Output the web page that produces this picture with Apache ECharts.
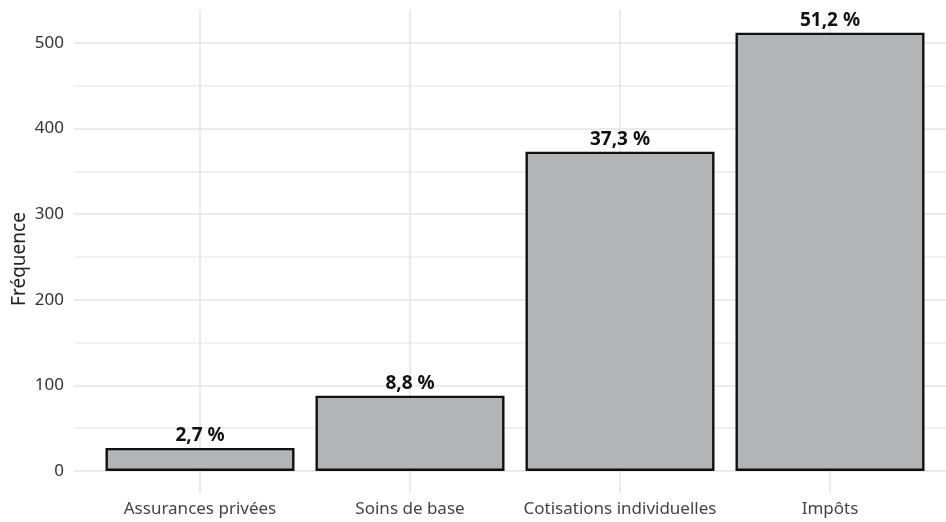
<!DOCTYPE html>
<html>
<head>
<meta charset="utf-8">
<script src="https://cdn.jsdelivr.net/npm/echarts@6/dist/echarts.min.js"></script>
<style>
  html, body { margin: 0; padding: 0; background: #fff; }
  #chart { width: 946px; height: 522px; }
</style>
</head>
<body>
<div id="chart"></div>
<script>
// data
var categories = ['Assurances privées', 'Soins de base', 'Cotisations individuelles', 'Impôts'];
var counts = [27, 88, 373, 512];
var pctLabels = ['2,7 %', '8,8 %', '37,3 %', '51,2 %'];
var yTitle = 'Fréquence';

var FONT = 'Noto Sans';
var GRID_COLOR = '#e4e4e4';
var Y_MAX = 538.5;

var myChart = echarts.init(document.getElementById('chart'), null, { renderer: 'canvas' });

var option = {
    backgroundColor: '#fff',
    animation: false,
    textStyle: { fontFamily: FONT },
    grid: [
        // 0: y axis + horizontal grid lines
        { left: 74, right: 0, top: 10, bottom: 51 },
        // 1: bars
        { left: 95, right: 11, top: 10, bottom: 51 },
        // 2: vertical grid lines and category labels
        { left: 200, right: 116, top: 10, bottom: 29 }
    ],
    // y title centred on the whole panel (ggplot style)
    graphic: [{
        type: 'text',
        x: 20,
        y: 259,
        rotation: Math.PI / 2,
        style: {
            text: yTitle,
            fill: '#222',
            font: '19px "Noto Sans"',
            align: 'center',
            verticalAlign: 'middle'
        }
    }],
    xAxis: [
        { type: 'value', gridIndex: 0, show: false, min: 0, max: 1 },
        {
            type: 'category', gridIndex: 1, data: categories, boundaryGap: true,
            axisLine: { show: false }, axisTick: { show: false },
            axisLabel: { show: false }, splitLine: { show: false }
        },
        {
            type: 'category', gridIndex: 2, data: categories, boundaryGap: false,
            axisLine: { show: false }, axisTick: { show: false },
            axisLabel: { interval: 0, margin: 8, color: '#444', fontSize: 17, fontFamily: FONT },
            splitLine: { show: true, interval: 0, lineStyle: { color: GRID_COLOR, width: 1.5 } }
        }
    ],
    yAxis: [
        {
            type: 'value', gridIndex: 0, min: 0, max: Y_MAX, interval: 50,
            axisLine: { show: false }, axisTick: { show: false },
            axisLabel: {
                margin: 10, color: '#333', fontSize: 17, fontFamily: FONT,
                showMaxLabel: false,
                formatter: function(v) { return v % 100 === 0 ? String(v) : ''; }
            },
            splitLine: {
                show: true, showMaxLine: false,
                lineStyle: { color: [GRID_COLOR, '#ececec'], width: 1.5 }
            }
        },
        { type: 'value', gridIndex: 1, min: 0, max: Y_MAX, show: false, splitLine: { show: false } },
        { type: 'value', gridIndex: 2, min: 0, max: 1, show: false, splitLine: { show: false } }
    ],
    series: [
        {
            type: 'bar',
            xAxisIndex: 1,
            yAxisIndex: 1,
            barWidth: '90%',
            data: counts,
            itemStyle: { color: '#b2b4b5', borderColor: '#111', borderWidth: 2.4 },
            label: {
                show: true,
                position: 'top',
                distance: 3,
                color: '#111',
                fontSize: 19,
                fontWeight: 'bold',
                fontFamily: FONT,
                formatter: function(p) { return pctLabels[p.dataIndex]; }
            }
        }
    ]
};

myChart.setOption(option);
</script>
</body>
</html>
